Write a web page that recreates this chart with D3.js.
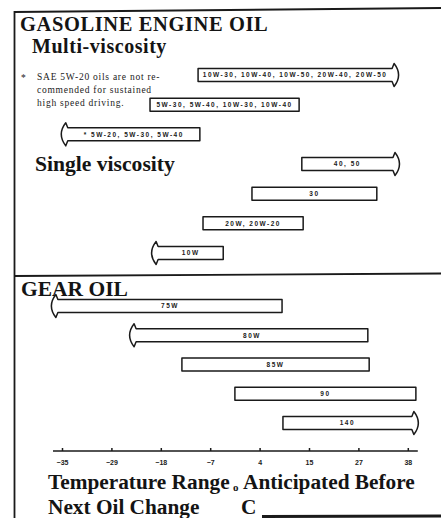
<!DOCTYPE html>
<html>
<head>
<meta charset="utf-8">
<script src="https://cdn.jsdelivr.net/npm/d3@7/dist/d3.min.js"></script>
<style>
  html, body { margin: 0; padding: 0; background: #fff; }
  svg { display: block; }
  .title { font-family: "Liberation Serif", "Times New Roman", serif; font-weight: bold; fill: #141414; }
  .note { font-family: "Liberation Serif", serif; font-size: 9.5px; fill: #1a1a1a; letter-spacing: 0.75px; }
  .barlabel { font-family: "Liberation Sans", Arial, sans-serif; font-size: 6.5px; font-weight: bold; fill: #1a1a1a; letter-spacing: 1.5px; }
  .axis text { font-family: "Liberation Sans", Arial, sans-serif; font-size: 7px; font-weight: bold; fill: #1a1a1a; }
</style>
</head>
<body>
<script>
// Temperature axis: tick values in °C, evenly spaced on the page
const tickValues = [-35, -29, -18, -7, 4, 15, 27, 38];
const tickLabels = ["\u221235", "\u221229", "\u221218", "\u22127", "4", "15", "27", "38"];

// Gasoline engine oil, multi-viscosity grades
const multiGrades = ["10W-30, 10W-40, 10W-50, 20W-40, 20W-50", "5W-30, 5W-40, 10W-30, 10W-40", "* 5W-20, 5W-30, 5W-40"];
const multiLow  = [-9.7, -20.4, -34.3];
const multiHigh = [34.5, 12.8, -9.3];
const multiOpen = ["right", "none", "left"];

// Gasoline engine oil, single viscosity grades
const singleGrades = ["40, 50", "30", "20W, 20W-20", "10W"];
const singleLow  = [13.4, 2.3, -8.6, -18.6];
const singleHigh = [34.7, 31.1, 13.7, -4.1];
const singleOpen = ["right", "none", "none", "left"];

// Gear oil grades
const gearGrades = ["75W", "80W", "85W", "90", "140"];
const gearLow  = [-35.5, -23.5, -13.3, -1.5, 9.2];
const gearHigh = [9.0, 29.1, 29.4, 39.8, 38.9];
const gearOpen = ["left", "left", "none", "none", "right"];

const noteLines = ["SAE 5W-20 oils are not re-", "commended for sustained", "high speed driving."];

const W = 441, H = 518;
const ink = "#1a1a1a";

const svg = d3.select("body").append("svg")
  .attr("width", W).attr("height", H);

// piecewise scale: each labelled temperature sits at an equal step
const x = d3.scaleLinear()
  .domain(tickValues)
  .range(tickValues.map((d, i) => 62 + i * 49.4));

// rows: one band for engine oils, one for gear oils
const engineRows = multiGrades.concat(singleGrades);
const yEngine = d3.scalePoint().domain(engineRows).range([75, 253]);
const yGear = d3.scalePoint().domain(gearGrades).range([306, 423]);
const barH = 13;

// frame
const frame = svg.append("g").attr("stroke", ink).attr("fill", "none");
frame.append("line").attr("x1", 14).attr("y1", 12).attr("x2", W).attr("y2", 8).attr("stroke-width", 2);
frame.append("line").attr("x1", 14.5).attr("y1", 11).attr("x2", 14.5).attr("y2", H).attr("stroke-width", 1.8);
frame.append("line").attr("x1", 14).attr("y1", 276).attr("x2", W).attr("y2", 273.5).attr("stroke-width", 1.8);
frame.append("line").attr("x1", 262).attr("y1", 516.5).attr("x2", W).attr("y2", 516).attr("stroke-width", 3);

// titles
const title = (t, tx, ty, size, ls) => svg.append("text").attr("class", "title")
  .attr("x", tx).attr("y", ty)
  .style("font-size", size + "px")
  .style("letter-spacing", (ls || 0) + "px")
  .text(t);
title("GASOLINE ENGINE OIL", 20, 30.5, 20.5, 0.6);
title("Multi-viscosity", 32, 52.5, 20, 0.55);
title("Single viscosity", 35, 171, 21.6);
title("GEAR OIL", 21, 296, 21.5);

// footnote
svg.append("text").attr("class", "note").attr("x", 21).attr("y", 81).text("*");
svg.append("g").selectAll("text").data(noteLines).join("text")
  .attr("class", "note")
  .attr("x", 37)
  .attr("y", (d, i) => 80 + i * 13)
  .text(d => d);

// bar outline with an open (arrow) end where the range continues
function barPath(x0, x1, yc, open) {
  const t = yc - barH / 2, b = yc + barH / 2;
  const p = d3.path();
  if (open === "left") {
    p.moveTo(x1, t); p.lineTo(x0, t);
    p.lineTo(x0 - 2, t - 5);
    p.quadraticCurveTo(x0 - 11, yc, x0 - 2, b + 5);
    p.lineTo(x0, b); p.lineTo(x1, b); p.closePath();
  } else if (open === "right") {
    p.moveTo(x0, t); p.lineTo(x1, t);
    p.lineTo(x1 + 2, t - 5);
    p.quadraticCurveTo(x1 + 11, yc, x1 + 2, b + 5);
    p.lineTo(x1, b); p.lineTo(x0, b); p.closePath();
  } else {
    p.rect(x0, t, x1 - x0, barH);
  }
  return p.toString();
}

function drawBars(grades, low, high, open, y) {
  const rows = grades.map((g, i) => ({ g, lo: low[i], hi: high[i], open: open[i] }));
  const g = svg.append("g").selectAll("g").data(rows).join("g");
  g.append("path")
    .attr("d", d => barPath(x(d.lo), x(d.hi), y(d.g), d.open))
    .attr("fill", "#fff")
    .attr("stroke", ink)
    .attr("stroke-width", 1.5)
    .attr("stroke-linejoin", "round");
  g.append("text")
    .attr("class", "barlabel")
    .attr("x", d => (x(d.lo) + x(d.hi)) / 2)
    .attr("y", d => y(d.g))
    .attr("dy", "0.35em")
    .attr("text-anchor", "middle")
    .text(d => d.g);
}

drawBars(multiGrades, multiLow, multiHigh, multiOpen, yEngine);
drawBars(singleGrades, singleLow, singleHigh, singleOpen, yEngine);
drawBars(gearGrades, gearLow, gearHigh, gearOpen, yGear);

// temperature axis
const axisY = 451;
const r0 = x(tickValues[0]), r1 = x(tickValues[tickValues.length - 1]);
svg.append("line")
  .attr("x1", r0 - 9).attr("x2", r1 + 10)
  .attr("y1", axisY).attr("y2", axisY)
  .attr("stroke", ink).attr("stroke-width", 1.6);

const axis = d3.axisBottom(x)
  .tickValues(tickValues)
  .tickFormat((d, i) => tickLabels[i])
  .tickSizeInner(-3)
  .tickSizeOuter(0)
  .tickPadding(9);

const ag = svg.append("g").attr("class", "axis").attr("transform", `translate(0,${axisY})`).call(axis);
ag.select(".domain").remove();
ag.selectAll(".tick line").attr("stroke", ink).attr("stroke-width", 1.5);

// axis caption
title("Temperature Range", 48, 489, 21.3);
title("Anticipated Before", 243, 489, 21.3);
title("Next Oil Change", 48, 513.5, 21.3);
title("o", 233, 491, 11);
title("C", 241, 513.5, 21.3);
</script>
</body>
</html>
